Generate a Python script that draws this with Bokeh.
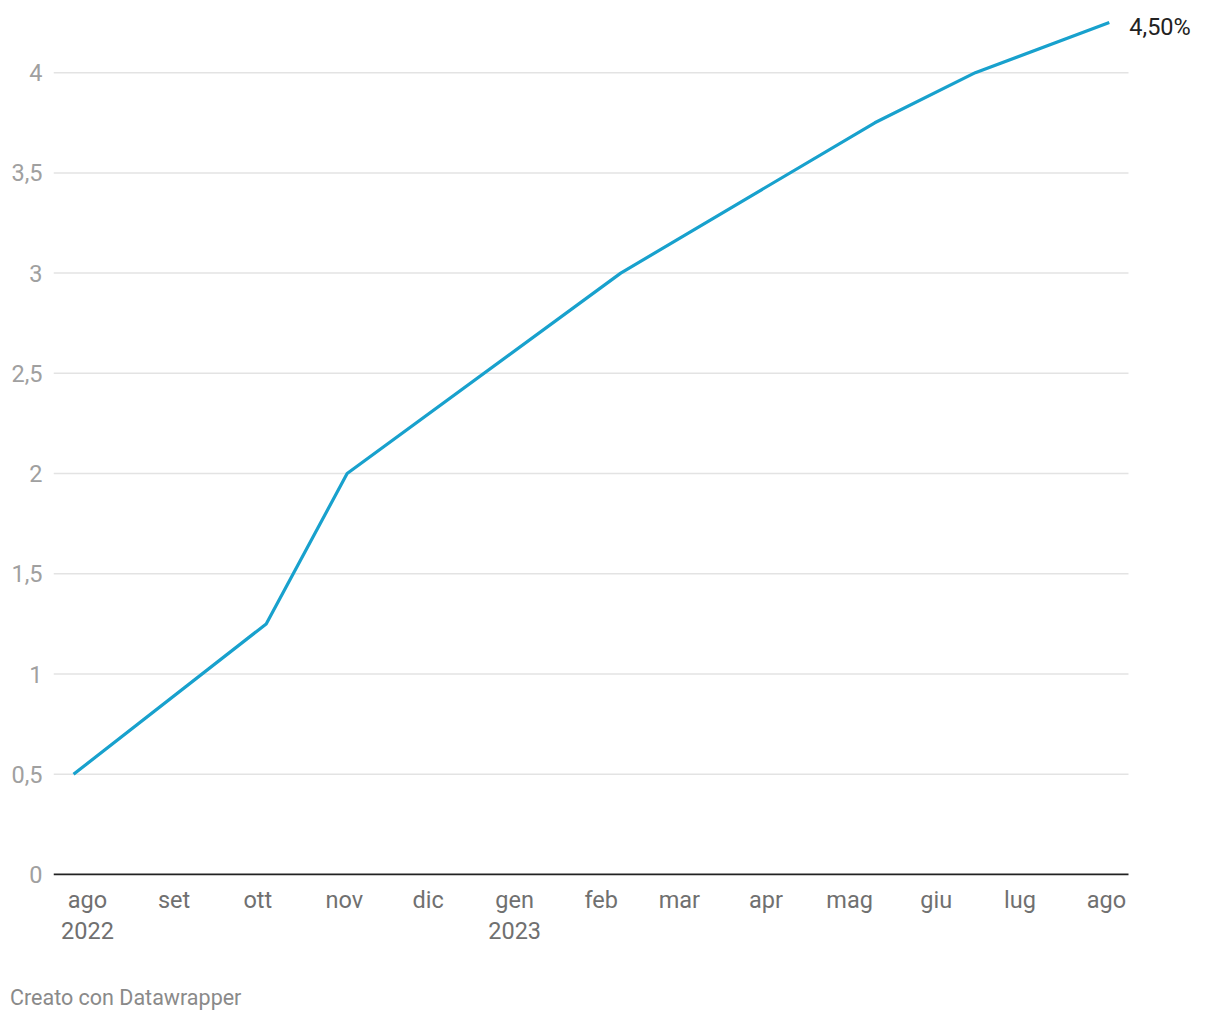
from datetime import datetime
from bokeh.plotting import figure
from bokeh.models import (ColumnDataSource, Range1d, FixedTicker, Div,
                          DatetimeAxis)
from bokeh.layouts import column
from bokeh.core.properties import value
from bokeh.embed import file_html
from bokeh.resources import INLINE

# ---- data ----
dates = ["2022-07-27", "2022-10-04", "2022-11-02", "2023-02-08",
         "2023-05-10", "2023-06-15", "2023-08-02"]
rates = [0.5, 1.25, 2.0, 3.0, 3.75, 4.0, 4.25]
end_label = "4,50%"

tick_months = ["2022-08-01", "2022-09-01", "2022-10-01", "2022-11-01",
               "2022-12-01", "2023-01-01", "2023-02-01", "2023-03-01",
               "2023-04-01", "2023-05-01", "2023-06-01", "2023-07-01",
               "2023-08-01"]
tick_labels = ["ago\n2022", "set", "ott", "nov", "dic", "gen\n2023", "feb",
               "mar", "apr", "mag", "giu", "lug", "ago"]
y_ticks = [0, 0.5, 1, 1.5, 2, 2.5, 3, 3.5, 4]
y_tick_labels = ["0", "0,5", "1", "1,5", "2", "2,5", "3", "3,5", "4"]
footer = "Creato con Datawrapper"


def ms(s):
    return datetime.strptime(s, "%Y-%m-%d").timestamp() * 1000.0


xs = [ms(d) for d in dates]
src = ColumnDataSource(dict(x=xs, y=rates))

DAY = 86400000.0
PX_PER_DAY = 2.792
x_start = ms("2022-08-01") - 12.18 * DAY      # left end of the axis
x_axis_end = ms("2023-08-01") + 7.88 * DAY    # right end of axis / grid
x_canvas_end = x_axis_end + (92 / PX_PER_DAY) * DAY

FIG_H = 975
FOOT_H = 1020 - FIG_H

y_lo = -0.005
p = figure(width=1220, height=FIG_H, output_backend="svg", toolbar_location=None,
           x_axis_type=None, y_range=Range1d(y_lo, 4.31),
           x_range=Range1d(x_start, x_canvas_end),
           min_border_left=53, min_border_right=0, min_border_top=10,
           min_border_bottom=FIG_H - 875, background_fill_color="white",
           border_fill_color="white", outline_line_color=None, margin=0)

FONT = "Roboto"

# x axis (labels only; line drawn as a segment so it stops at the axis end)
xticks = [ms(t) for t in tick_months]
xaxis = DatetimeAxis(ticker=FixedTicker(ticks=xticks))
xaxis.major_label_overrides = {t: l for t, l in zip(xticks, tick_labels)}
xaxis.axis_line_color = None
xaxis.major_tick_line_color = None
xaxis.minor_tick_line_color = None
xaxis.major_tick_out = 0
xaxis.major_tick_in = 0
xaxis.major_label_standoff = 10
xaxis.major_label_text_font = FONT
xaxis.major_label_text_font_size = "23.5px"
xaxis.major_label_text_color = "#707070"
xaxis.major_label_text_line_height = 1.12
p.add_layout(xaxis, "below")

# y axis
p.yaxis.ticker = FixedTicker(ticks=y_ticks)
p.yaxis.major_label_overrides = {t: l for t, l in zip(y_ticks, y_tick_labels)}
p.yaxis.axis_line_color = None
p.yaxis.major_tick_line_color = None
p.yaxis.minor_tick_line_color = None
p.yaxis.major_tick_out = 0
p.yaxis.major_tick_in = 0
p.yaxis.major_label_standoff = 11
p.yaxis.major_label_text_font = FONT
p.yaxis.major_label_text_font_size = "23.5px"
p.yaxis.major_label_text_color = "#a0a0a0"

p.xgrid.visible = False
p.ygrid.visible = False

grid_y = y_ticks[1:]
p.segment(x0=[x_start] * len(grid_y), x1=[x_axis_end] * len(grid_y),
          y0=grid_y, y1=grid_y, line_color="#e3e3e3", line_width=1.5)
p.segment(x0=[x_start], x1=[x_axis_end], y0=[y_ticks[0]], y1=[y_ticks[0]],
          line_color="#222222", line_width=2)

p.line("x", "y", source=src, line_color="#18a1cd", line_width=3.2,
       line_join="round")

p.text(x=[xs[-1]], y=[rates[-1]], text=[end_label], x_offset=20, y_offset=4,
       text_baseline="middle", text_align="left", text_font=value(FONT),
       text_font_size="23.5px", text_color="#222222")

foot = Div(text=footer, width=1220, height=FOOT_H, margin=0,
           styles={"font-family": "Roboto", "font-size": "21.5px",
                   "color": "#8a8a8a", "padding-left": "10px",
                   "line-height": f"{FOOT_H}px", "background": "white"})

layout = column(p, foot, spacing=0, margin=0)

open("out.html", "w").write(file_html(layout, INLINE))
